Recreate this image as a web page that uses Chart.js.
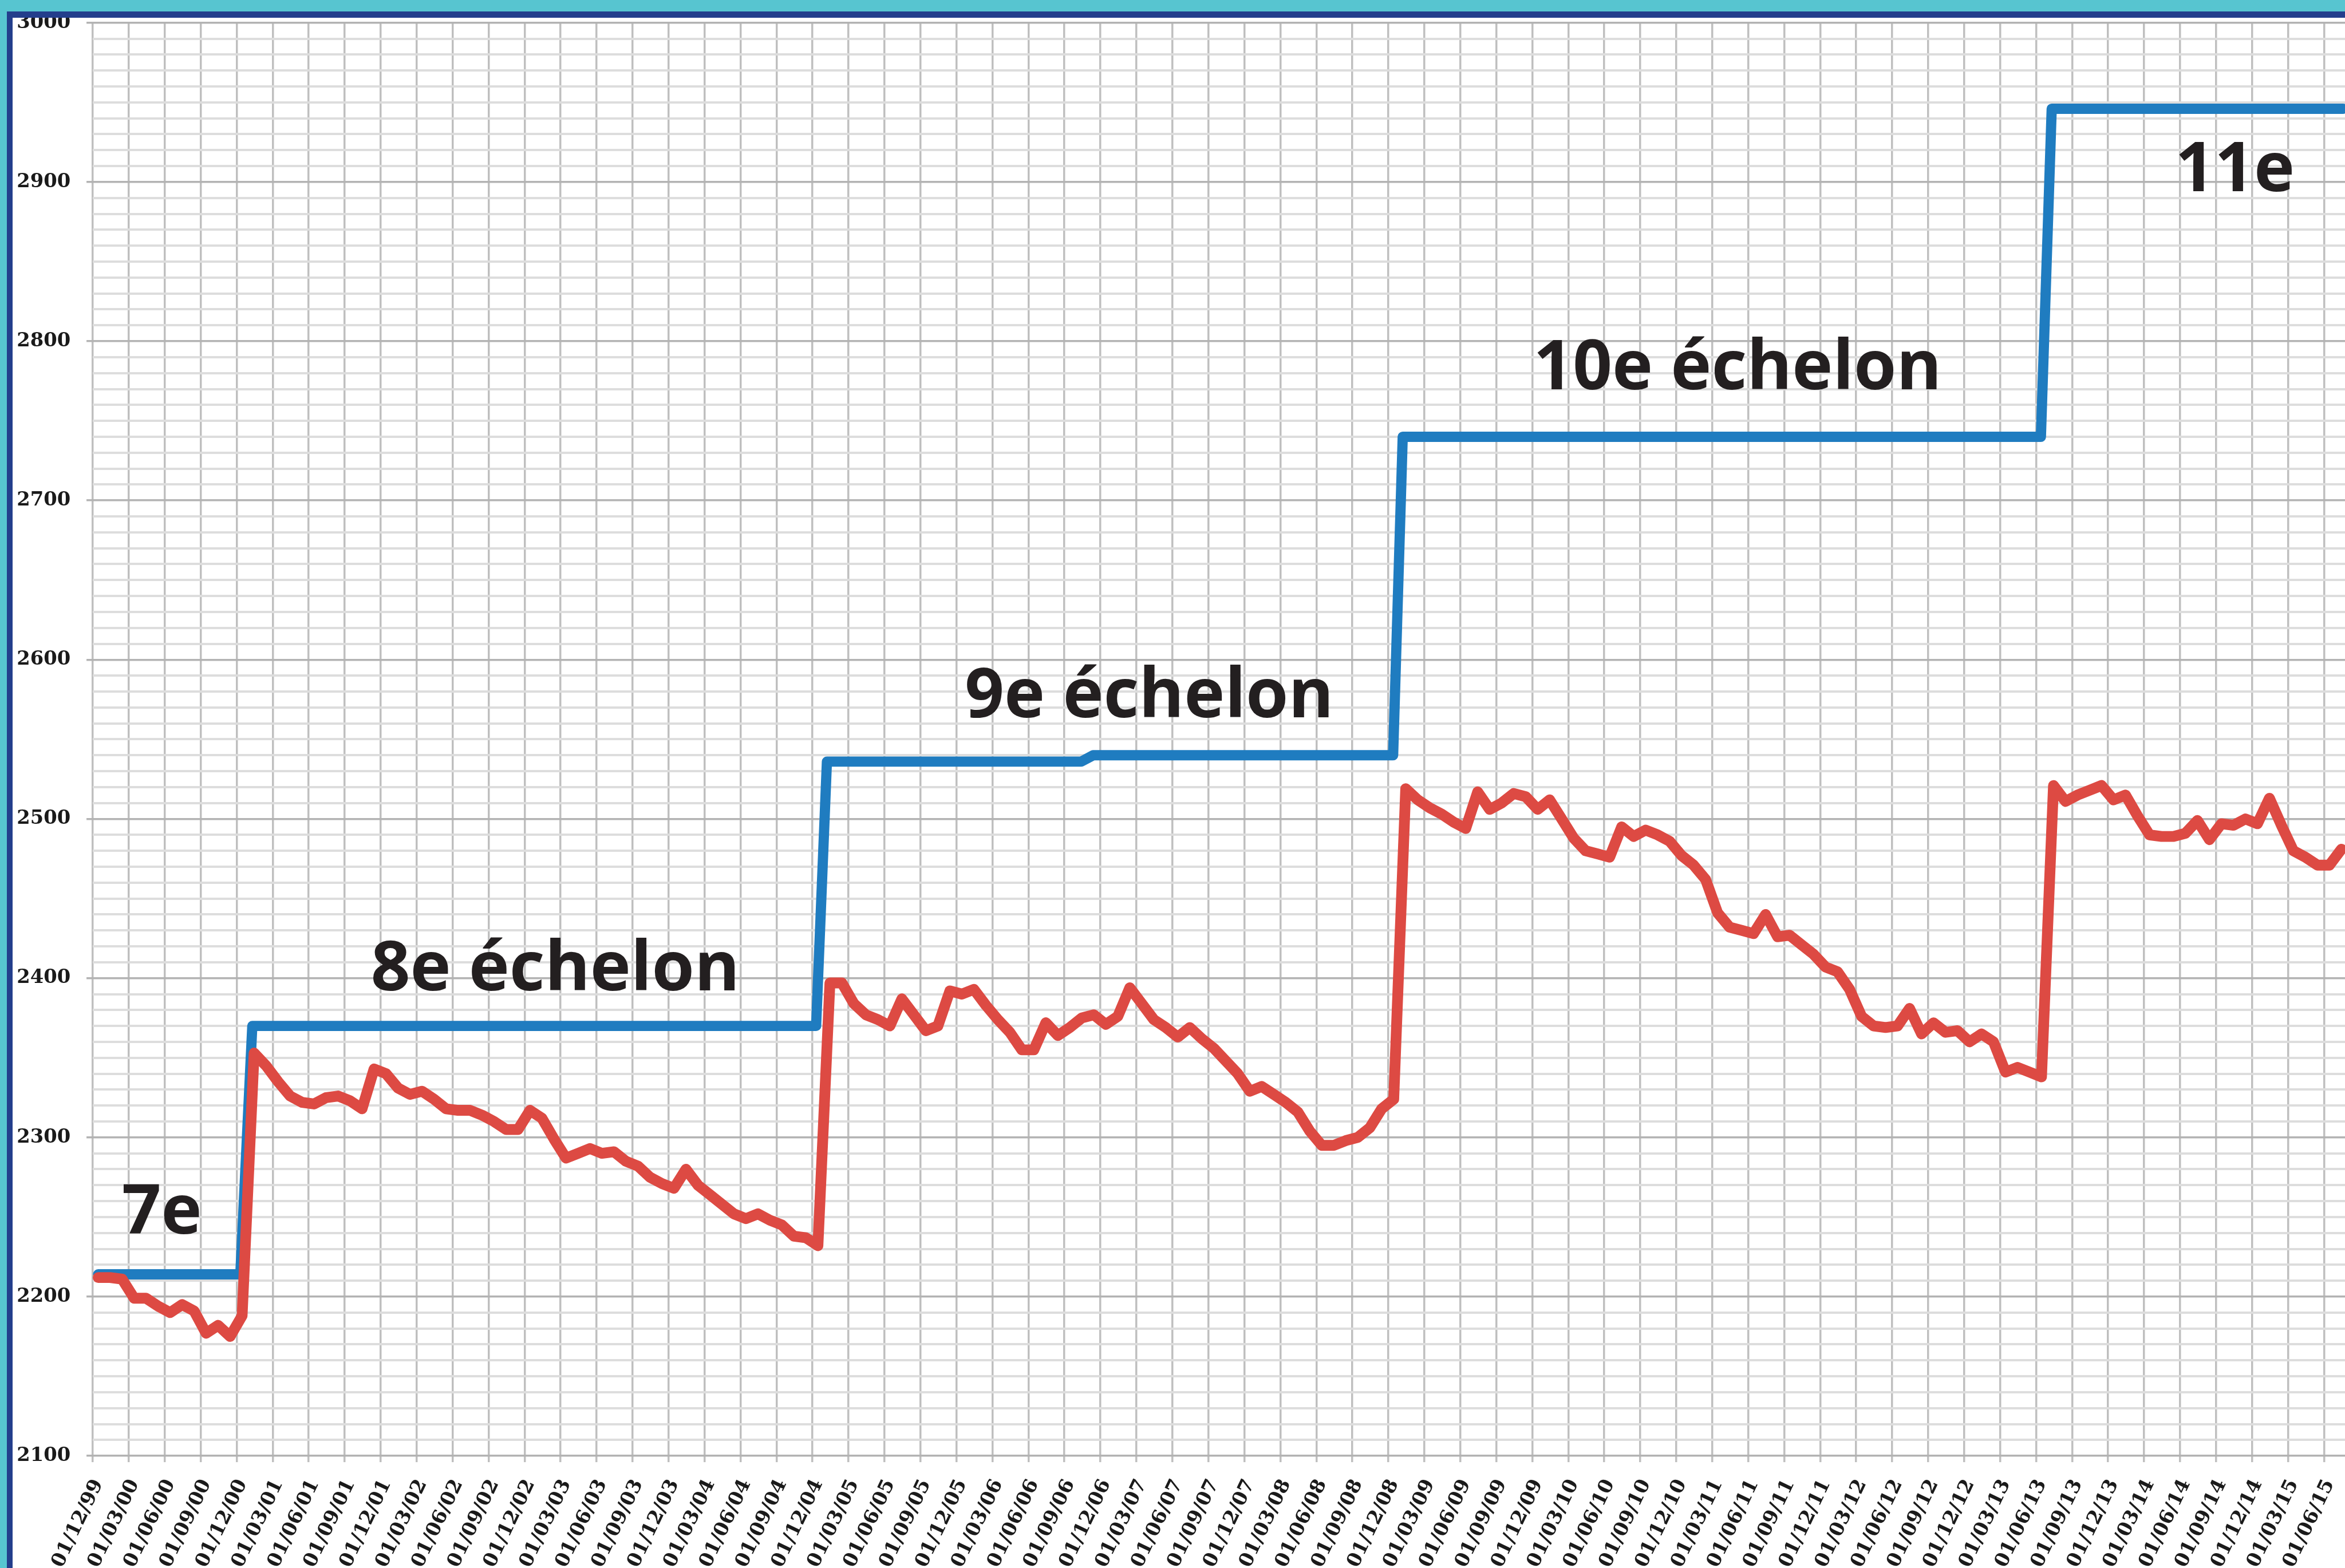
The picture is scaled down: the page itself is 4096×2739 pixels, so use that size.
<!DOCTYPE html>
<html lang="fr">
<head>
<meta charset="utf-8">
<title>Échelons</title>
<script src="https://cdn.jsdelivr.net/npm/chart.js@4.4.1/dist/chart.umd.min.js"></script>
<style>
  html, body { margin: 0; padding: 0; background: #fff; overflow: hidden; }
  #frame { position: relative; width: 4096px; height: 2739px; background: #fff; }
  #frame canvas { position: absolute; left: 0; top: 0; }
  .edge { position: absolute; }
</style>
</head>
<body>
<div id="frame">
  <canvas id="echelons" width="4096" height="2739"></canvas>
  <div class="edge" style="left:0;top:0;width:4096px;height:19.9px;background:#57c5d0"></div>
  <div class="edge" style="left:0;top:0;width:11.9px;height:2739px;background:#57c5d0"></div>
  <div class="edge" style="left:11.9px;top:19.9px;width:4084.1px;height:10.9px;background:#233e8c"></div>
  <div class="edge" style="left:11.9px;top:19.9px;width:10px;height:2719.1px;background:#233e8c"></div>
</div>
<script>
/* global Chart */

// everything is drawn at 0.994 of the reference size
const S = 0.994;

// quarterly tick labels, one every 3 months starting Dec 1999
const xLabels = [
  '01/12/99',
  '01/03/00', '01/06/00', '01/09/00', '01/12/00',
  '01/03/01', '01/06/01', '01/09/01', '01/12/01',
  '01/03/02', '01/06/02', '01/09/02', '01/12/02',
  '01/03/03', '01/06/03', '01/09/03', '01/12/03',
  '01/03/04', '01/06/04', '01/09/04', '01/12/04',
  '01/03/05', '01/06/05', '01/09/05', '01/12/05',
  '01/03/06', '01/06/06', '01/09/06', '01/12/06',
  '01/03/07', '01/06/07', '01/09/07', '01/12/07',
  '01/03/08', '01/06/08', '01/09/08', '01/12/08',
  '01/03/09', '01/06/09', '01/09/09', '01/12/09',
  '01/03/10', '01/06/10', '01/09/10', '01/12/10',
  '01/03/11', '01/06/11', '01/09/11', '01/12/11',
  '01/03/12', '01/06/12', '01/09/12', '01/12/12',
  '01/03/13', '01/06/13', '01/09/13', '01/12/13',
  '01/03/14', '01/06/14', '01/09/14', '01/12/14',
  '01/03/15', '01/06/15',
];

// red line: one value per month from Dec 1999
const redValues = [
  2212, 2212, 2211, 2199, 2199, 2194, 2190, 2195, 2191, 2177, 2182, 2175,
  2188, 2353, 2345, 2335, 2326, 2322, 2321, 2325, 2326, 2323, 2318, 2343,
  2340, 2331, 2327, 2329, 2324, 2318, 2317, 2317, 2314, 2310, 2305, 2305,
  2317, 2312, 2299, 2287, 2290, 2293, 2290, 2291, 2285, 2282, 2275, 2271,
  2268, 2280, 2270, 2264, 2258, 2252, 2249, 2252, 2248, 2245, 2238, 2237,
  2232, 2397, 2397, 2384, 2377, 2374, 2370, 2387, 2377, 2367, 2370, 2392,
  2390, 2393, 2383, 2374, 2366, 2355, 2355, 2372, 2364, 2369, 2375, 2377,
  2371, 2376, 2394, 2384, 2374, 2369, 2363, 2369, 2362, 2356, 2348, 2340,
  2329, 2332, 2327, 2322, 2316, 2304, 2295, 2295, 2298, 2300, 2306, 2318,
  2324, 2519, 2512, 2507, 2503, 2498, 2494, 2517, 2506, 2510, 2516, 2514,
  2506, 2512, 2500, 2488, 2480, 2478, 2476, 2495, 2489, 2493, 2490, 2486,
  2477, 2471, 2462, 2441, 2432, 2430, 2428, 2440, 2426, 2427, 2421, 2415,
  2407, 2404, 2393, 2376, 2370, 2369, 2370, 2381, 2365, 2372, 2366, 2367,
  2360, 2365, 2360, 2341, 2344, 2341, 2338, 2521, 2511, 2515, 2518, 2521,
  2512, 2515, 2502, 2490, 2489, 2489, 2491, 2499, 2487, 2497, 2496, 2500,
  2497, 2513, 2496, 2480, 2476, 2471, 2471, 2481,
];
const RED_OFFSET = 0.45; // monthly points sit mid-month

// blue steps (échelon), months since Dec 1999
const blueMonths = [0.45, 12.3, 13.3, 60.3, 61.2, 82.4, 83.4, 108.4, 109.2, 162.4, 163.3, 187.6];
const blueValues = [2214, 2214, 2370, 2370, 2536, 2536, 2540, 2540, 2740, 2740, 2946, 2946];

// step labels, anchored at (month, value) of the text baseline start
const noteLabels = ['7e', '8e échelon', '9e échelon', '10e échelon', '11e'];
const noteMonths = [2.42, 23.18, 72.7, 120.1, 173.6];
const noteValues = [2239.5, 2392.5, 2563.7, 2769.9, 2894.2];

const plotLeft = 163 * S;
const plotTop = 40 * S;
const plotBottom = 2558.5 * S;
const canvasHeight = 2739;

const tickFont = { family: '"DejaVu Serif", serif', weight: 'bold', size: 34 * S };
const isMajor = (v) => Math.round(v) % 100 === 0;

const notesPlugin = {
  id: 'notes',
  afterDatasetsDraw(chart) {
    const { ctx } = chart;
    const { x, y } = chart.scales;
    ctx.save();
    ctx.font = `bold ${121 * S}px "Open Sans", sans-serif`;
    ctx.fillStyle = '#231f20';
    ctx.textBaseline = 'alphabetic';
    ctx.textAlign = 'left';
    noteLabels.forEach((label, i) => {
      ctx.fillText(label, x.getPixelForValue(noteMonths[i]), y.getPixelForValue(noteValues[i]));
    });
    ctx.restore();
  },
};

const data = {
  datasets: [
    {
      label: 'Salaire',
      data: redValues.map((v, i) => ({ x: i + RED_OFFSET, y: v })),
      borderColor: '#dd4a43',
      borderWidth: 19 * S,
      order: 0,
    },
    {
      label: 'Échelon',
      data: blueMonths.map((m, i) => ({ x: m, y: blueValues[i] })),
      borderColor: '#1f7cc0',
      borderWidth: 18 * S,
      order: 1,
    },
  ],
};

const options = {
  responsive: false,
  animation: false,
  devicePixelRatio: 1,
  layout: { padding: { left: 0, right: 0, top: plotTop, bottom: 0 } },
  plugins: {
    legend: { display: false },
    tooltip: { enabled: false },
  },
  elements: {
    point: { radius: 0 },
    line: { tension: 0, borderJoinStyle: 'round', borderCapStyle: 'round' },
  },
  scales: {
    x: {
      type: 'linear',
      min: 0,
      max: 187.75,
      afterFit(scale) {
        scale.height = canvasHeight - plotBottom;
        scale.paddingLeft = 0;
        scale.paddingRight = 0;
      },
      border: { display: false },
      grid: {
        color: '#bfbfbf',
        lineWidth: 3.5 * S,
        tickLength: 11 * S,
      },
      ticks: {
        stepSize: 3,
        autoSkip: false,
        maxTicksLimit: 100,
        includeBounds: false,
        minRotation: 64.5,
        maxRotation: 64.5,
        padding: 24 * S,
        labelOffset: 10 * S,
        color: '#1a1a1a',
        font: tickFont,
        callback: (v) => xLabels[Math.round(v / 3)] || '',
      },
    },
    y: {
      min: 2100,
      max: 3000,
      afterFit(scale) {
        scale.width = plotLeft;
        scale.paddingTop = 0;
        scale.paddingBottom = 0;
      },
      border: { display: false },
      grid: {
        color: (c) => (isMajor(c.tick.value) ? '#b3b3b3' : '#dddddd'),
        lineWidth: (c) => (isMajor(c.tick.value) ? 3.5 : 4) * S,
        tickColor: (c) => (isMajor(c.tick.value) ? '#b3b3b3' : 'rgba(0,0,0,0)'),
        tickLength: 11 * S,
      },
      ticks: {
        stepSize: 10,
        autoSkip: false,
        maxTicksLimit: 200,
        padding: 28 * S,
        color: '#1a1a1a',
        font: tickFont,
        callback: (v) => (isMajor(v) ? String(Math.round(v)) : ''),
      },
    },
  },
};

new Chart('echelons', {
  type: 'line',
  data: data,
  options: options,
  plugins: [notesPlugin],
});
</script>
</body>
</html>
